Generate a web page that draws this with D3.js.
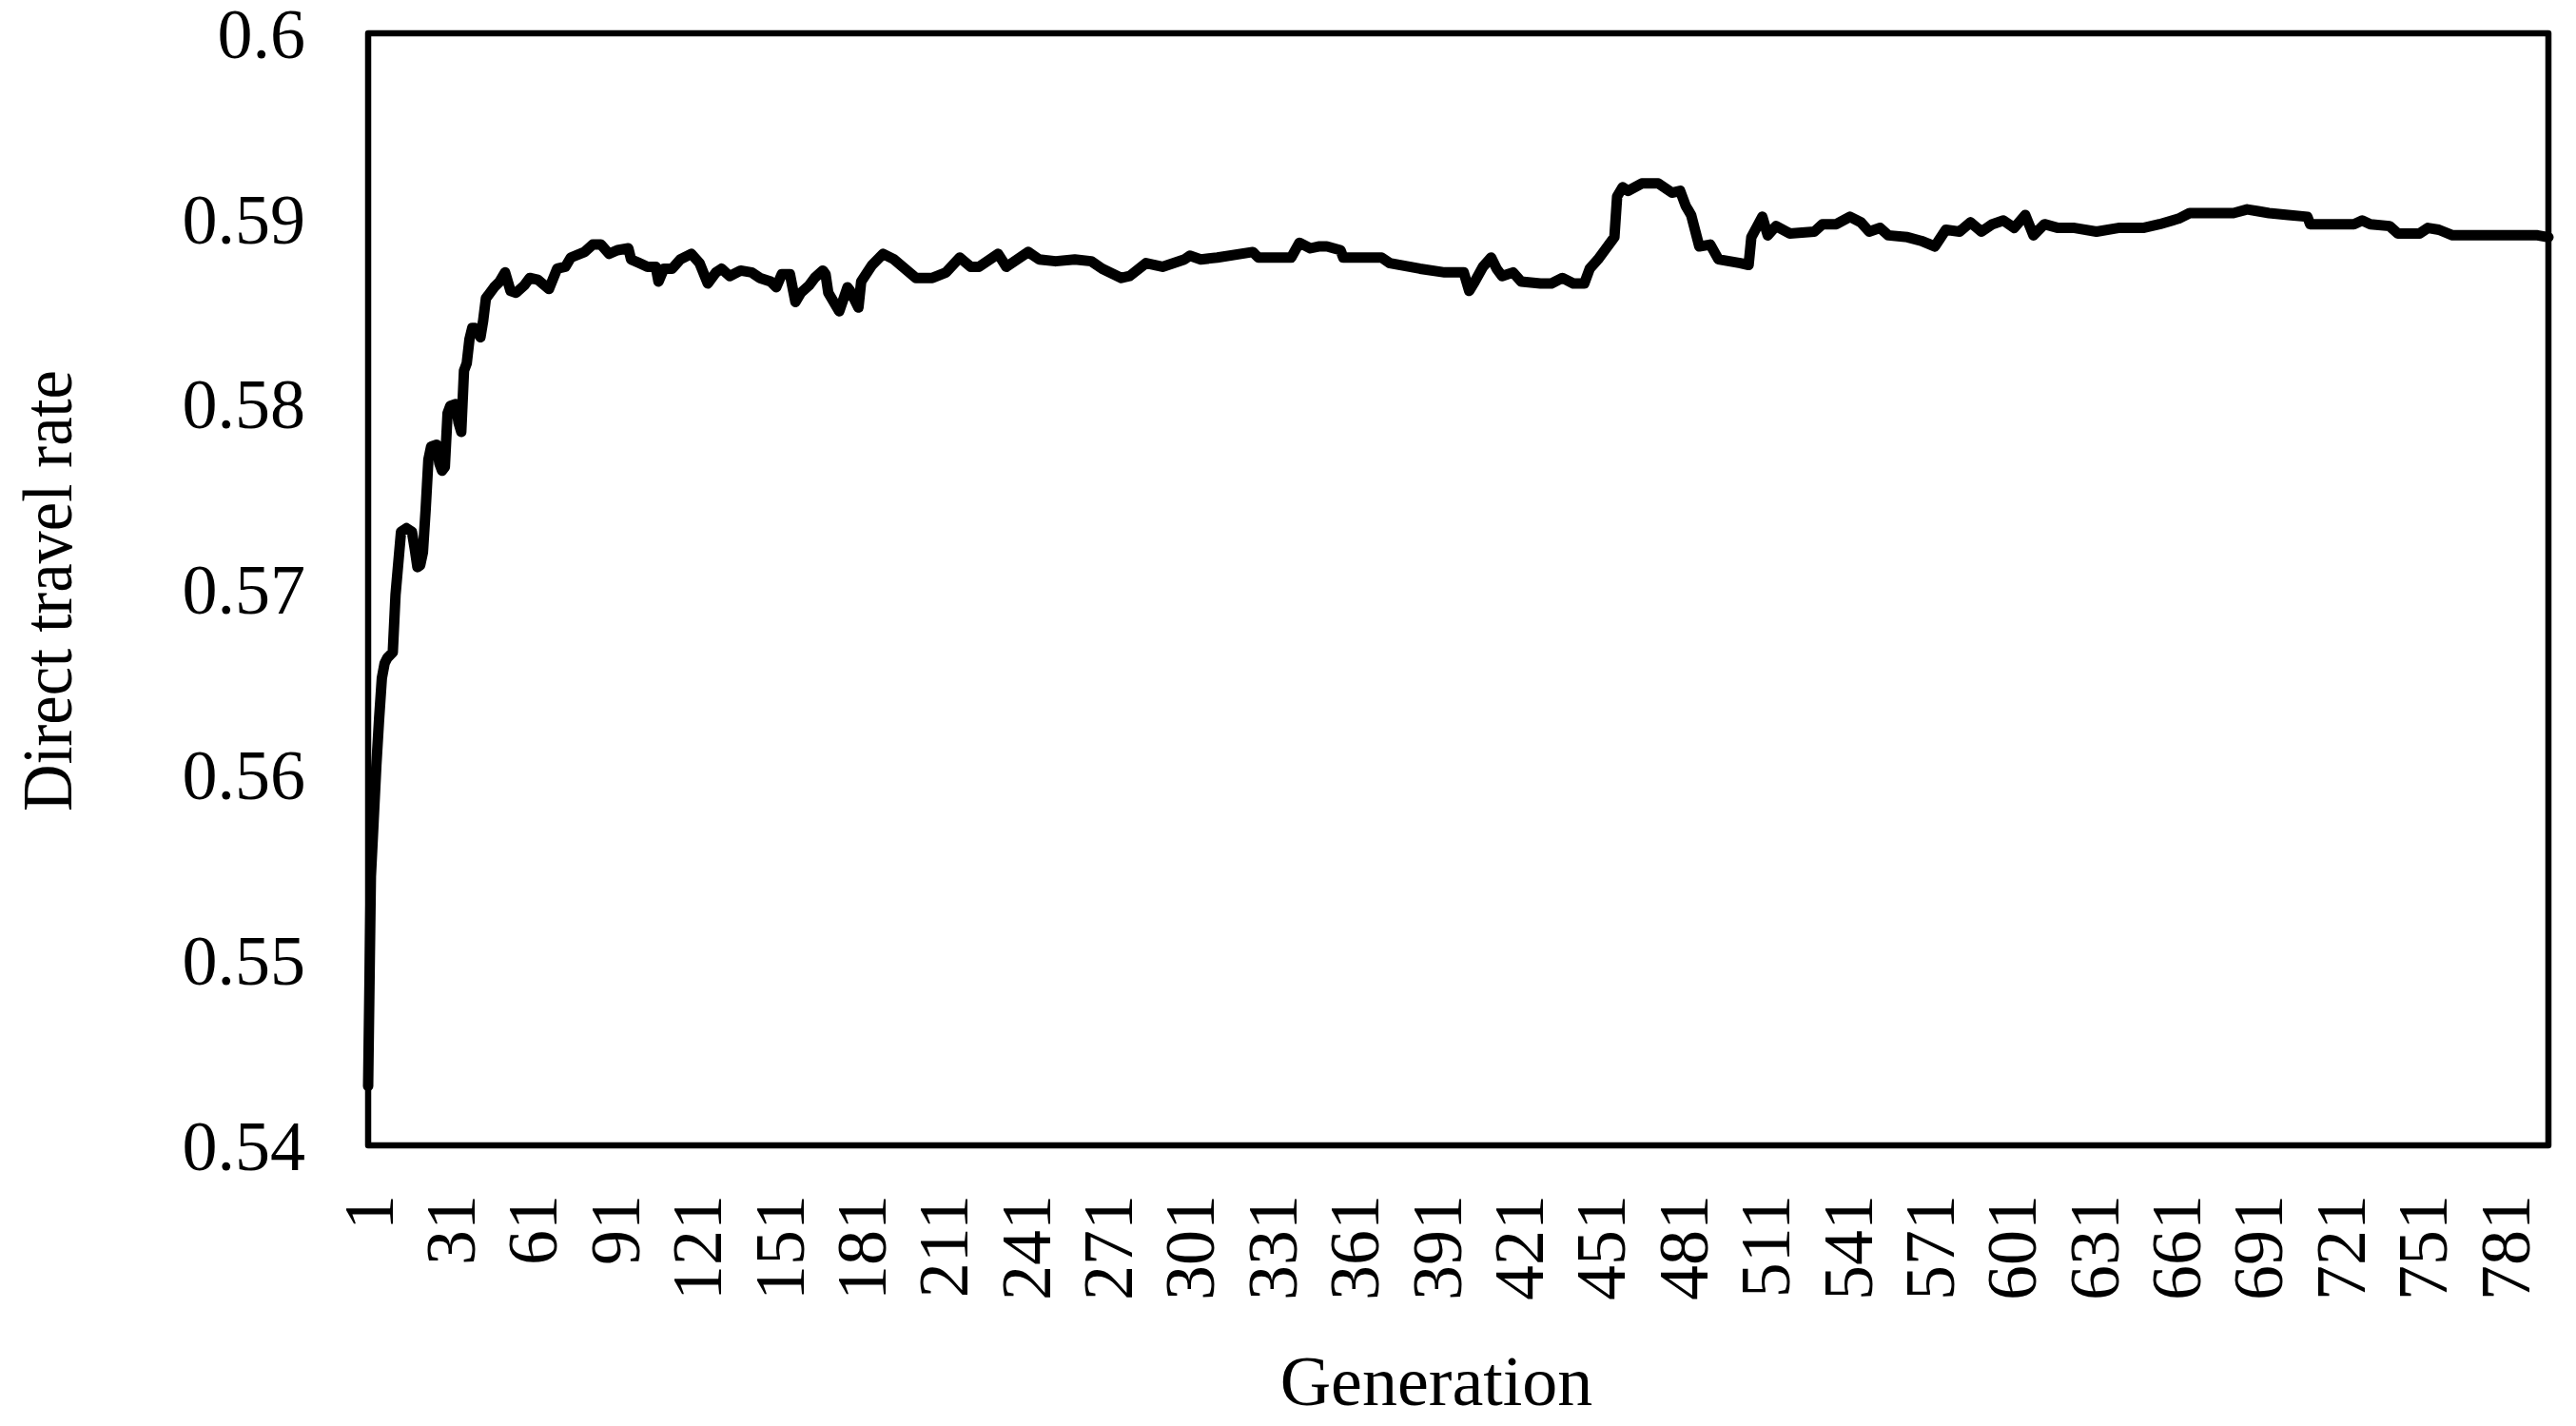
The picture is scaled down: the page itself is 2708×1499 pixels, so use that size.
<!DOCTYPE html>
<html><head><meta charset="utf-8">
<script src="https://cdn.jsdelivr.net/npm/d3@7"></script>
<style>body{margin:0;background:#fff}svg{display:block}</style>
</head><body>
<script>
const generationCount = 797;
const xTickLabels = [1,31,61,91,121,151,181,211,241,271,301,331,361,391,421,451,481,511,541,571,601,631,661,691,721,751,781];
const yTickLabels = [0.54,0.55,0.56,0.57,0.58,0.59,0.6];
const generations = [1,2,3,4,5,6,7,8,10,11,13,15,17,18,19,20,21,22,23,24,26,27,28,29,30,31,33,34,35,36,37,38,39,40,41,42,43,44,47,49,51,53,55,58,60,63,67,70,73,75,80,83,86,89,92,96,97,100,103,106,107,109,112,115,119,122,125,128,130,133,137,141,144,148,150,152,155,157,159,162,164,167,168,169,173,176,177,180,181,185,189,193,197,
201,207,212,217,221,224,231,234,242,246,252,259,265,269,276,279,285,291,299,301,305,311,324,326,338,341,345,
348,351,356,357,371,374,385,394,401,403,405,408,411,413,415,419,422,429,433,437,441,445,447,450,453,456,457,459,461,466,472,477,480,482,484,487,491,494,498,502,505,506,510,512,515,520,529,532,537,542,546,549,553,556,563,568,573,
577,582,586,590,594,598,602,606,609,613,618,624,632,640,649,655,662,666,674,682,687,691,695,702,709,710,726,729,732,739,742,750,753,757,762,793,797];
const rates = [0.5432,0.5545,0.5575,0.5605,0.5630,0.5652,0.5660,0.5663,0.5666,0.5697,0.5731,0.5733,0.5731,0.5722,0.5712,0.5713,0.5720,0.5743,0.5770,0.5777,0.5778,0.5768,0.5764,0.5766,0.5795,0.5799,0.5800,0.5790,0.5785,0.5818,0.5822,0.5835,0.5841,0.5841,0.5840,0.5836,0.5845,0.5857,0.5863,0.5866,0.5871,0.5861,0.5860,0.5864,0.5868,0.5867,0.5862,0.5873,0.5874,0.5879,0.5882,0.5886,0.5886,0.5881,0.5883,0.5884,0.5878,0.5876,0.5874,0.5874,0.5866,0.5873,0.5873,0.5878,0.5881,0.5876,0.5865,0.5871,0.5873,0.5869,0.5872,0.5871,0.5868,0.5866,0.5863,0.5870,0.5870,0.5855,0.5860,0.5864,0.5868,0.5872,0.5870,0.5860,0.5850,0.5863,0.5861,0.5852,0.5866,0.5875,0.5881,0.5878,0.5873,
0.5868,0.5868,0.5871,0.5879,0.5874,0.5874,0.5881,0.5874,0.5882,0.5878,0.5877,0.5878,0.5877,0.5873,0.5868,0.5869,0.5876,0.5874,0.5878,0.5880,0.5878,0.5879,0.5882,0.5879,0.5879,0.5887,0.5884,
0.5885,0.5885,0.5883,0.5879,0.5879,0.5876,0.5873,0.5871,0.5871,0.5861,0.5866,0.5874,0.5879,0.5873,0.5869,0.5871,0.5866,0.5865,0.5865,0.5868,0.5865,0.5865,0.5873,0.5878,0.5884,0.5890,0.5912,0.5917,0.5915,0.5919,0.5919,0.5914,0.5915,0.5907,0.5902,0.5885,0.5886,0.5878,0.5877,0.5876,0.5875,0.5890,0.5901,0.5891,0.5896,0.5892,0.5893,0.5897,0.5897,0.5901,0.5898,0.5893,0.5895,0.5891,0.5890,0.5888,0.5885,
0.5894,0.5893,0.5898,0.5893,0.5897,0.5899,0.5895,0.5902,0.5891,0.5897,0.5895,0.5895,0.5893,0.5895,0.5895,0.5897,0.5900,0.5903,0.5903,0.5903,0.5905,0.5904,0.5903,0.5902,0.5901,0.5897,0.5897,0.5899,0.5897,0.5896,0.5892,0.5892,0.5895,0.5894,0.5891,0.5891,0.5890];

const W = 2708, H = 1499;
const m = {left: 387, right: 2679, top: 35, bottom: 1204};
const svg = d3.select("body").append("svg").attr("width", W).attr("height", H);
const x = d3.scaleLinear().domain([1, generationCount]).range([m.left, m.right]);
const y = d3.scaleLinear().domain([0.54, 0.6]).range([m.bottom, m.top]);
const font = "'Liberation Serif','Times New Roman',serif";

// line
const pts = generations.map((g, i) => [g, rates[i]]);
svg.append("path").datum(pts)
  .attr("fill", "none").attr("stroke", "#000").attr("stroke-width", 11)
  .attr("stroke-linejoin", "round").attr("stroke-linecap", "round")
  .attr("d", d3.line().x(d => x(d[0])).y(d => y(d[1])));

// frame
svg.append("rect").attr("x", m.left).attr("y", m.top)
  .attr("width", m.right - m.left).attr("height", m.bottom - m.top)
  .attr("fill", "none").attr("stroke", "#000").attr("stroke-width", 6.5)
  .attr("stroke-linejoin", "round");

// y axis
const yAxis = svg.append("g").attr("transform", `translate(${m.left},0)`)
  .call(d3.axisLeft(y).tickValues(yTickLabels).tickSize(0).tickPadding(66)
    .tickFormat(d => d === 0.6 ? "0.6" : d3.format(".2f")(d)));
yAxis.select(".domain").remove();
yAxis.selectAll("text").attr("font-family", font).attr("font-size", 74).attr("fill", "#000").attr("dy", "0.34em");

// x axis
const xAxis = svg.append("g").attr("transform", `translate(0,${m.bottom})`)
  .call(d3.axisBottom(x).tickValues(xTickLabels).tickSize(0).tickFormat(d3.format("d")));
xAxis.select(".domain").remove();
xAxis.selectAll("text")
  .attr("font-family", font).attr("font-size", 74).attr("fill", "#000")
  .attr("text-anchor", "end").attr("y", 0).attr("dy", "0.34em")
  .attr("transform", "translate(0,52) rotate(-90)");

// titles
svg.append("text").attr("x", 1510).attr("y", 1477).attr("text-anchor", "middle")
  .attr("font-family", font).attr("font-size", 74).attr("fill", "#000").text("Generation");
svg.append("text").attr("transform", `translate(75,621) rotate(-90)`)
  .attr("text-anchor", "middle").attr("font-family", font).attr("font-size", 74).attr("fill", "#000")
  .attr("textLength", 464).attr("lengthAdjust", "spacingAndGlyphs")
  .text("Direct travel rate");
</script>
</body></html>
